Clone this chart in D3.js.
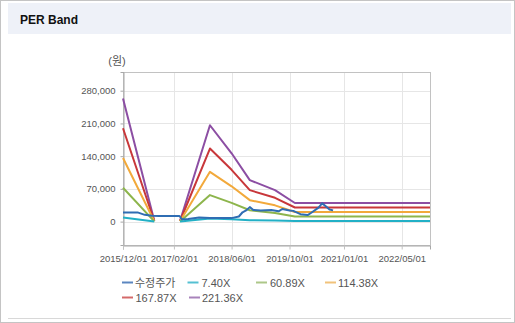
<!DOCTYPE html>
<html>
<head>
<meta charset="utf-8">
<script src="https://cdn.jsdelivr.net/npm/d3@7"></script>
<style>
  html, body { margin: 0; padding: 0; background: #fff; }
  svg { display: block; }
  text { font-family: "Liberation Sans", "Noto Sans CJK KR", sans-serif; }
</style>
</head>
<body>
<svg id="chart" width="515" height="323"></svg>
<script>
// ---- data ----
const bandDates = ["2015-12-01", "2016-08-20", "2016-12-01", "2017-03-25", "2017-12-01",
                   "2018-06-01", "2018-11-01", "2019-06-01", "2019-11-15", "2022-12-25"];
// null marks the period where no band is drawn
const band740   = [8800,   60,   null, 60,   6900,   4880,   2970,  2250,  1330,  1330];
const band6089  = [72400,  490,  null, 490,  56700,  40200,  24400, 18500, 10960, 10960];
const band11438 = [136000, 920,  null, 920,  106500, 75500,  45900, 34800, 20600, 20600];
const band16787 = [199600, 1340, null, 1340, 156300, 110800, 67300, 51000, 30200, 30200];
const band22136 = [263200, 1770, null, 1770, 206100, 146100, 88800, 67300, 39800, 39800];

const priceDates = ["2015-12-01", "2016-04-01", "2016-06-01", "2016-08-01", "2016-10-01",
  "2017-03-20", "2017-04-10", "2017-06-01", "2017-09-01", "2017-12-01", "2018-03-01",
  "2018-06-01", "2018-08-01", "2018-09-01", "2018-10-01", "2018-11-01", "2018-12-01",
  "2019-02-01", "2019-05-01", "2019-07-01", "2019-08-01", "2019-10-01", "2019-11-01",
  "2020-01-01", "2020-03-01", "2020-04-01", "2020-06-01", "2020-07-01", "2020-08-01",
  "2020-09-01", "2020-10-01"];
const priceValues = [19700, 19700, 14500, 12500, 12000,
  12000, 5000, 5500, 9000, 7500, 8000,
  7500, 11000, 20000, 24000, 31000, 25000,
  24000, 25000, 22000, 27000, 24000, 23000,
  16000, 14000, 19000, 30000, 39000, 33000,
  26000, 24000];

const seriesNames = ["수정주가", "7.40X", "60.89X", "114.38X", "167.87X", "221.36X"];
const seriesColors = ["#2f6db3", "#22b0c6", "#8db54c", "#f2a93b", "#c8373a", "#8c4ea3"];
const legendColors = ["#5b86c0", "#55c0d2", "#adc788", "#f1c27a", "#d46a6a", "#a883bb"];

const yTicks = [0, 70000, 140000, 210000, 280000];
const xTickLabels = ["2015/12/01", "2017/02/01", "2018/06/01", "2019/10/01", "2021/01/01", "2022/05/01"];

// ---- layout ----
const svg = d3.select("#chart");
const W = 515, H = 323;
const plot = { left: 123, right: 430, top: 72, bottom: 245 };
const parse = d3.timeParse("%Y-%m-%d");
const parseTick = d3.timeParse("%Y/%m/%d");

// panel frame and title bar
svg.append("rect").attr("x", 0.5).attr("y", 0.5).attr("width", W - 1).attr("height", H - 1)
  .attr("fill", "#fff").attr("stroke", "#c4c4c4").attr("stroke-width", 1);
svg.append("rect").attr("x", 8).attr("y", 3).attr("width", 503).attr("height", 31)
  .attr("fill", "#eef1f8");
svg.append("text").attr("x", 20).attr("y", 24).text("PER Band")
  .attr("font-family", "'DejaVu Sans', sans-serif")
  .attr("font-weight", "bold").attr("font-size", 12).attr("fill", "#111");
svg.append("line").attr("x1", 8).attr("x2", 511).attr("y1", 318.5).attr("y2", 318.5)
  .attr("stroke", "#d8d8d8");

// ---- scales ----
const x = d3.scaleTime()
  .domain([parse("2015-12-01"), parse("2022-12-25")])
  .range([plot.left, plot.right]);
const y = d3.scaleLinear().domain([-50000, 320000]).range([plot.bottom, plot.top]);

// grid
const g = svg.append("g");
g.selectAll(".hg").data(yTicks).join("line")
  .attr("x1", plot.left).attr("x2", plot.right)
  .attr("y1", d => Math.round(y(d)) + 0.5).attr("y2", d => Math.round(y(d)) + 0.5)
  .attr("stroke", "#e6e6e6");
g.selectAll(".vg").data(xTickLabels).join("line")
  .attr("x1", d => Math.round(x(parseTick(d))) + 0.5).attr("x2", d => Math.round(x(parseTick(d))) + 0.5)
  .attr("y1", plot.top).attr("y2", plot.bottom)
  .attr("stroke", "#e6e6e6");

// plot border
svg.append("rect").attr("x", plot.left + 0.5).attr("y", plot.top + 0.5)
  .attr("width", plot.right - plot.left).attr("height", plot.bottom - plot.top)
  .attr("fill", "none").attr("stroke", "#c2c2c2");

// axes
const yAxis = d3.axisLeft(y).tickValues(yTicks).tickSize(3).tickPadding(5)
  .tickFormat(d3.format(","));
const yG = svg.append("g").attr("transform", `translate(${plot.left + 0.5},0)`).call(yAxis);
yG.select(".domain").attr("stroke", "#a8a8a8");
yG.selectAll(".tick line").attr("stroke", "#a8a8a8");
yG.selectAll("text").attr("font-size", 9.5).attr("fill", "#555")
  .attr("font-family", "'Liberation Sans', sans-serif");

const xAxis = d3.axisBottom(x).tickValues(xTickLabels.map(parseTick)).tickSize(4).tickPadding(6)
  .tickFormat(d3.timeFormat("%Y/%m/%d"));
const xG = svg.append("g").attr("transform", `translate(0,${plot.bottom + 0.5})`).call(xAxis);
xG.select(".domain").attr("stroke", "#a8a8a8");
xG.selectAll(".tick line").attr("stroke", "#c2c2c2");
xG.selectAll("text").attr("font-size", 9.5).attr("fill", "#555")
  .attr("font-family", "'Liberation Sans', sans-serif");

// unit label
svg.append("text").attr("x", 117).attr("y", 65).attr("text-anchor", "middle")
  .attr("font-size", 11).attr("fill", "#555").text("(원)");

// ---- lines ----
const line = d3.line()
  .defined(d => d.v !== null)
  .x(d => x(d.date)).y(d => y(d.v));

const bands = [band740, band6089, band11438, band16787, band22136];
const bandData = bands.map(vals => vals.map((v, i) => ({ date: parse(bandDates[i]), v })));
const priceData = priceValues.map((v, i) => ({ date: parse(priceDates[i]), v }));

const lines = svg.append("g");
// widest band first so the narrower ones sit on top
for (let i = bands.length - 1; i >= 0; i--) {
  lines.append("path").datum(bandData[i])
    .attr("d", line).attr("fill", "none")
    .attr("stroke", seriesColors[i + 1]).attr("stroke-width", 2)
    .attr("stroke-linejoin", "round");
}
lines.append("path").datum(priceData)
  .attr("d", line).attr("fill", "none")
  .attr("stroke", seriesColors[0]).attr("stroke-width", 2)
  .attr("stroke-linejoin", "round");

// ---- legend ----
const legendPos = [
  { mx: 122, tx: 135, y: 282.5 },
  { mx: 187.5, tx: 201.5, y: 282.5 },
  { mx: 256, tx: 270, y: 282.5 },
  { mx: 325, tx: 338, y: 282.5 },
  { mx: 122, tx: 135.5, y: 297.5 },
  { mx: 189, tx: 202, y: 297.5 }
];
const lg = svg.append("g").selectAll("g").data(seriesNames).join("g");
lg.append("line")
  .attr("x1", (d, i) => legendPos[i].mx).attr("x2", (d, i) => legendPos[i].mx + 11)
  .attr("y1", (d, i) => legendPos[i].y).attr("y2", (d, i) => legendPos[i].y)
  .attr("stroke", (d, i) => legendColors[i]).attr("stroke-width", 2);
lg.append("text")
  .attr("x", (d, i) => legendPos[i].tx).attr("y", (d, i) => legendPos[i].y + 4)
  .attr("font-size", 11).attr("fill", "#555").text(d => d);
</script>
</body>
</html>
